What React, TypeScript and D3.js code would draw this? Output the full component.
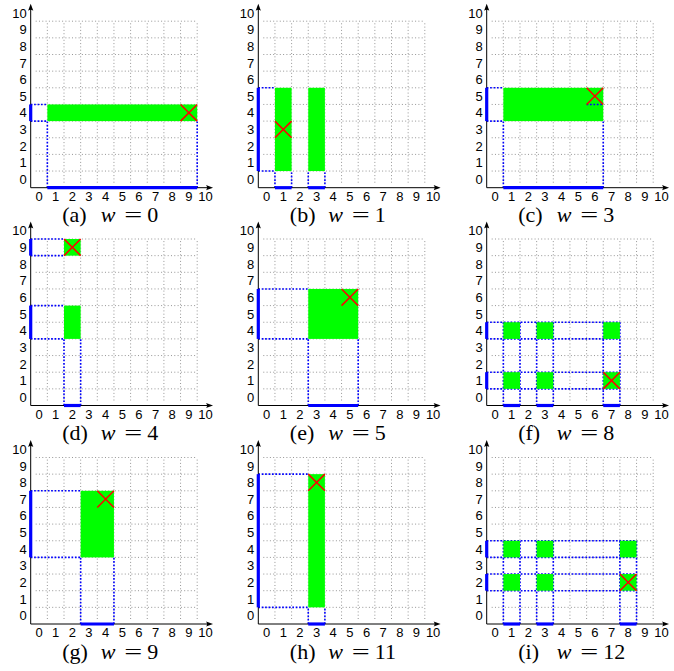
import React from "react";
import * as d3 from "d3";

// ---- data ----
const panelLetters = ["a", "b", "c", "d", "e", "f", "g", "h", "i"];
const wValues = [0, 1, 3, 4, 5, 8, 9, 11, 12];
const tickValues = [0, 1, 2, 3, 4, 5, 6, 7, 8, 9, 10];
const gridLines = [0.5, 1.5, 2.5, 3.5, 4.5, 5.5, 6.5, 7.5, 8.5, 9.5];

// green blocks: [xFrom, xTo, yFrom, yTo] (inclusive cell indices)
const greenBlocks: number[][][] = [
  [[1, 9, 4, 4]],
  [[1, 1, 1, 5], [3, 3, 1, 5]],
  [[1, 6, 4, 5]],
  [[2, 2, 9, 9], [2, 2, 4, 5]],
  [[3, 5, 4, 6]],
  [[1, 1, 1, 1], [3, 3, 1, 1], [7, 7, 1, 1], [1, 1, 4, 4], [3, 3, 4, 4], [7, 7, 4, 4]],
  [[3, 4, 4, 7]],
  [[3, 3, 1, 8]],
  [[1, 1, 2, 2], [3, 3, 2, 2], [8, 8, 2, 2], [1, 1, 4, 4], [3, 3, 4, 4], [8, 8, 4, 4]],
];

// red cross cell [x, y]
const crossCells = [[9, 4], [1, 3], [6, 5], [2, 9], [5, 6], [7, 1], [4, 7], [3, 8], [8, 2]];

// projections on the axes (inclusive cell ranges)
const xProjections = [
  [[1, 9]], [[1, 1], [3, 3]], [[1, 6]], [[2, 2]], [[3, 5]],
  [[1, 1], [3, 3], [7, 7]], [[3, 4]], [[3, 3]], [[1, 1], [3, 3], [8, 8]],
];
const yProjections = [
  [[4, 4]], [[1, 5]], [[4, 5]], [[4, 5], [9, 9]], [[4, 6]],
  [[1, 1], [4, 4]], [[4, 7]], [[1, 8]], [[2, 2], [4, 4]],
];

// blue dotted guides: horizontal at ys from axis to `to`; vertical at xs from axis to `to`
const hGuideYs = [
  [3.5, 4.5], [0.5, 5.5], [3.5, 5.5], [3.5, 5.5, 8.5, 9.5], [3.5, 6.5],
  [0.5, 1.5, 3.5, 4.5], [3.5, 7.5], [0.5, 8.5], [1.5, 2.5, 3.5, 4.5],
];
const hGuideEnd = [0.5, 0.5, 0.5, 1.5, 2.5, 7.5, 2.5, 2.5, 8.5];
const vGuideXs = [
  [0.5, 9.5], [0.5, 1.5, 2.5, 3.5], [0.5, 6.5], [1.5, 2.5], [2.5, 5.5],
  [0.5, 1.5, 2.5, 3.5, 6.5, 7.5], [2.5, 4.5], [2.5, 3.5], [0.5, 1.5, 2.5, 3.5, 7.5, 8.5],
];
const vGuideEnd = [3.5, 0.5, 3.5, 3.5, 3.5, 4.5, 3.5, 0.5, 4.5];
// extra dotted segment [panel, y, xFrom, xTo]
const extraSegments = [[2, 4.5, 5.5, 6.5]];

// ---- layout ----
const W = 674;
const H = 671;
const U = 16.65;
const colX = [30.7, 258.3, 486.7];
const rowY = [187.7, 405.5, 624];

const BLUE = "#0000ff";
const GREEN = "#00ff00";
const RED = "#ff0000";
const GRAY = "#8a8a8a";

function Panel({ idx }: { idx: number }) {
  const ox = colX[idx % 3];
  const oy = rowY[Math.floor(idx / 3)];
  const x = d3.scaleLinear().domain([-0.5, 10.5]).range([ox, ox + 11 * U]);
  const y = d3.scaleLinear().domain([-0.5, 10.5]).range([oy, oy - 11 * U]);

  const xTipEnd = x(10.45);
  const yTipEnd = y(10.55);

  const cross = crossCells[idx];
  const cx = x(cross[0]);
  const cy = y(cross[1]);
  const r = U / 2;

  const arrowX = `M${xTipEnd},${oy} L${xTipEnd - 7},${oy - 2.6} Q${xTipEnd - 5},${oy} ${xTipEnd - 7},${oy + 2.6} Z`;
  const arrowY = `M${ox},${yTipEnd} L${ox - 2.6},${yTipEnd + 7} Q${ox},${yTipEnd + 5} ${ox + 2.6},${yTipEnd + 7} Z`;

  return (
    <g>
      {/* gray dotted grid */}
      {gridLines.map((g) => (
        <line key={"gh" + g} x1={x(-0.2)} x2={x(9.5)} y1={y(g)} y2={y(g)}
          stroke={GRAY} strokeWidth={0.9} strokeDasharray="1,2.3" />
      ))}
      {gridLines.map((g) => (
        <line key={"gv" + g} x1={x(g)} x2={x(g)} y1={y(-0.2)} y2={y(9.5)}
          stroke={GRAY} strokeWidth={0.9} strokeDasharray="1,2.3" />
      ))}
      {/* blue dotted guides */}
      {hGuideYs[idx].map((g) => (
        <line key={"bh" + g} x1={x(-0.5)} x2={x(hGuideEnd[idx])} y1={y(g)} y2={y(g)}
          stroke={BLUE} strokeWidth={1.6} strokeDasharray="1.7,1.7" />
      ))}
      {vGuideXs[idx].map((g) => (
        <line key={"bv" + g} x1={x(g)} x2={x(g)} y1={y(-0.5)} y2={y(vGuideEnd[idx])}
          stroke={BLUE} strokeWidth={1.6} strokeDasharray="1.7,1.7" />
      ))}
      {/* green blocks */}
      {greenBlocks[idx].map((b, i) => (
        <rect key={"gb" + i} x={x(b[0] - 0.5)} y={y(b[3] + 0.5)}
          width={x(b[1] + 0.5) - x(b[0] - 0.5)} height={y(b[2] - 0.5) - y(b[3] + 0.5)}
          fill={GREEN} />
      ))}
      {extraSegments.filter((s) => s[0] === idx).map((s, i) => (
        <line key={"ex" + i} x1={x(s[2])} x2={x(s[3])} y1={y(s[1])} y2={y(s[1])}
          stroke={BLUE} strokeWidth={1.6} strokeDasharray="1.7,1.7" />
      ))}
      {/* red cross */}
      <line x1={cx - r} y1={cy - r} x2={cx + r} y2={cy + r} stroke={RED} strokeWidth={1.5} />
      <line x1={cx - r} y1={cy + r} x2={cx + r} y2={cy - r} stroke={RED} strokeWidth={1.5} />
      {/* axes */}
      <line x1={ox} y1={oy} x2={xTipEnd - 3} y2={oy} stroke="#000" strokeWidth={1} />
      <line x1={ox} y1={oy} x2={ox} y2={yTipEnd + 3} stroke="#000" strokeWidth={1} />
      <path d={arrowX} fill="#000" />
      <path d={arrowY} fill="#000" />
      {/* projections */}
      {xProjections[idx].map((p, i) => (
        <line key={"px" + i} x1={x(p[0] - 0.5)} x2={x(p[1] + 0.5)} y1={oy} y2={oy}
          stroke={BLUE} strokeWidth={3.2} />
      ))}
      {yProjections[idx].map((p, i) => (
        <line key={"py" + i} x1={ox} x2={ox} y1={y(p[0] - 0.5)} y2={y(p[1] + 0.5)}
          stroke={BLUE} strokeWidth={3.2} />
      ))}
      {/* tick labels */}
      {tickValues.map((t) => (
        <text key={"tx" + t} x={x(t)} y={oy + 13.3} textAnchor="middle"
          fontFamily="'Liberation Sans', Arial, sans-serif" fontSize={13} fill="#000">{t}</text>
      ))}
      {tickValues.map((t) => (
        <text key={"ty" + t} x={ox - 4} y={y(t) + 4.7} textAnchor="end"
          fontFamily="'Liberation Sans', Arial, sans-serif" fontSize={13} fill="#000">{t}</text>
      ))}
      {/* caption */}
      <g fontFamily="'Liberation Serif', 'Times New Roman', serif" fontSize={22} fill="#000">
        <text x={ox + 31.5} y={oy + 34.5}>({panelLetters[idx]})</text>
        <text x={ox + 70} y={oy + 34.5} fontStyle="italic">w</text>
        <text x={ox + 93.5} y={oy + 34.5} textLength={18} lengthAdjust="spacingAndGlyphs">=</text>
        <text x={ox + 116.5} y={oy + 34.5}>{wValues[idx]}</text>
      </g>
    </g>
  );
}

export default function App() {
  return (
    <svg width={W} height={H} viewBox={`0 0 ${W} ${H}`}
      style={{ position: "absolute", left: 0, top: 0, background: "#fff" }}>
      <rect x={0} y={0} width={W} height={H} fill="#fff" />
      {panelLetters.map((_, i) => (
        <Panel key={i} idx={i} />
      ))}
    </svg>
  );
}
